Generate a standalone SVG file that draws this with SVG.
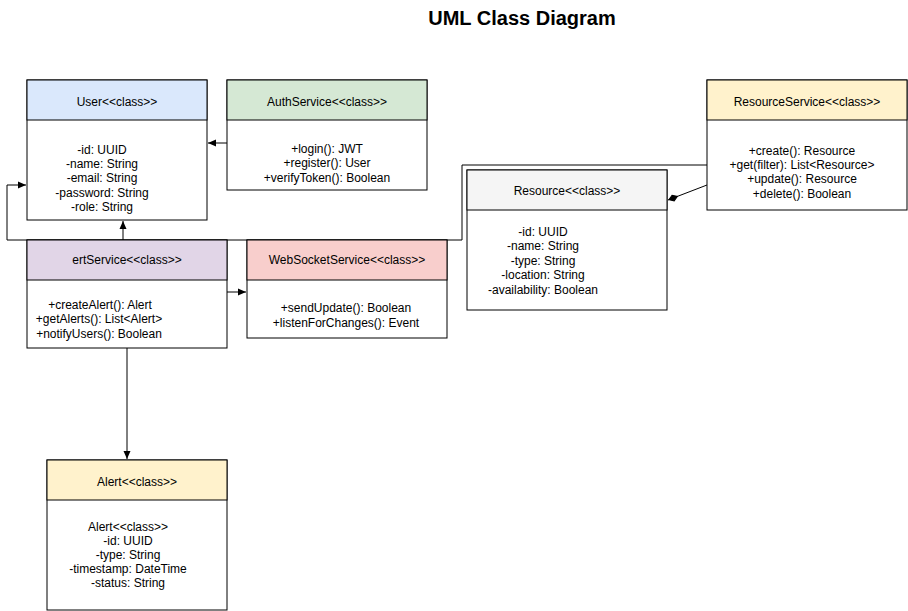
<svg xmlns="http://www.w3.org/2000/svg" width="908" height="611" viewBox="0 0 908 611">
<style>
  text { font-family: "Liberation Sans", Arial, Helvetica, sans-serif; font-size: 12px; fill: #000; text-anchor: middle; }
  .title { font-size: 20px; font-weight: bold; }
  .box { fill: #ffffff; stroke: #000; stroke-width: 1; }
  .hdr { stroke: #000; stroke-width: 1; }
  .edge { fill: none; stroke: #000; stroke-width: 1; }
</style>
<defs>
  <marker id="arrow" markerUnits="userSpaceOnUse" markerWidth="10" markerHeight="10" refX="8" refY="4" orient="auto">
    <path d="M0,0.5 L8,4 L0,7.5 Z" fill="#000"/>
  </marker>
  <marker id="diamond" markerUnits="userSpaceOnUse" markerWidth="12" markerHeight="10" refX="11" refY="4" orient="auto">
    <path d="M1,4 L5.5,1 L10,4 L5.5,7 Z" fill="#000" stroke="#000" stroke-width="1"/>
  </marker>
</defs>
<rect width="908" height="611" fill="#ffffff"/>
<text class="title" x="522" y="25">UML Class Diagram</text>

<g id="connectors">
  <path class="edge" d="M227,143 L208,143" marker-end="url(#arrow)"/>
  <path class="edge" d="M123,240 L123,221" marker-end="url(#arrow)"/>
  <path class="edge" d="M717,165 L462,165 L462,240 L7,240 L7,185 L26,185" marker-end="url(#arrow)"/>
  <path class="edge" d="M227,292 L246,292" marker-end="url(#arrow)"/>
  <path class="edge" d="M707,185 L668,200" marker-end="url(#diamond)"/>
  <path class="edge" d="M127,348 L127,459" marker-end="url(#arrow)"/>
</g>

<g id="user">
  <rect class="box" x="27" y="80" width="180" height="140"/>
  <rect class="hdr" x="27" y="80" width="180" height="40" fill="#dae8fc"/>
  <text x="117" y="106">User&lt;&lt;class&gt;&gt;</text>
  <text x="102" y="153.5">-id: UUID</text>
  <text x="102" y="167.9">-name: String</text>
  <text x="102" y="182.3">-email: String</text>
  <text x="102" y="196.7">-password: String</text>
  <text x="102" y="211.1">-role: String</text>
</g>

<g id="authservice">
  <rect class="box" x="227" y="80" width="200" height="110"/>
  <rect class="hdr" x="227" y="80" width="200" height="40" fill="#d5e8d4"/>
  <text x="327" y="106">AuthService&lt;&lt;class&gt;&gt;</text>
  <text x="327" y="153">+login(): JWT</text>
  <text x="327" y="167.4">+register(): User</text>
  <text x="327" y="181.8">+verifyToken(): Boolean</text>
</g>

<g id="resourceservice">
  <rect class="box" x="707" y="80" width="200" height="130"/>
  <rect class="hdr" x="707" y="80" width="200" height="40" fill="#fff2cc"/>
  <text x="807" y="106">ResourceService&lt;&lt;class&gt;&gt;</text>
  <text x="802" y="154.5">+create(): Resource</text>
  <text x="802" y="168.9">+get(filter): List&lt;Resource&gt;</text>
  <text x="802" y="183.3">+update(): Resource</text>
  <text x="802" y="197.7">+delete(): Boolean</text>
</g>

<g id="resource">
  <rect class="box" x="467" y="170" width="200" height="140"/>
  <rect class="hdr" x="467" y="170" width="200" height="40" fill="#f5f5f5"/>
  <text x="567" y="195">Resource&lt;&lt;class&gt;&gt;</text>
  <text x="543" y="236">-id: UUID</text>
  <text x="543" y="250.4">-name: String</text>
  <text x="543" y="264.8">-type: String</text>
  <text x="543" y="279.2">-location: String</text>
  <text x="543" y="293.6">-availability: Boolean</text>
</g>

<g id="alertservice">
  <rect class="box" x="27" y="240" width="200" height="108"/>
  <rect class="hdr" x="27" y="240" width="200" height="40" fill="#e1d5e7"/>
  <text x="127" y="264">ertService&lt;&lt;class&gt;&gt;</text>
  <text x="100" y="309">+createAlert(): Alert</text>
  <text x="99" y="323.4">+getAlerts(): List&lt;Alert&gt;</text>
  <text x="99" y="337.8">+notifyUsers(): Boolean</text>
</g>

<g id="websocketservice">
  <rect class="box" x="247" y="240" width="200" height="98"/>
  <rect class="hdr" x="247" y="240" width="200" height="40" fill="#f8cecc"/>
  <text x="347" y="264">WebSocketService&lt;&lt;class&gt;&gt;</text>
  <text x="346" y="311.5">+sendUpdate(): Boolean</text>
  <text x="346" y="327">+listenForChanges(): Event</text>
</g>

<g id="alert">
  <rect class="box" x="47" y="460" width="180" height="150"/>
  <rect class="hdr" x="47" y="460" width="180" height="40" fill="#fff2cc"/>
  <text x="137" y="485.7">Alert&lt;&lt;class&gt;&gt;</text>
  <text x="128" y="530.7">Alert&lt;&lt;class&gt;&gt;</text>
  <text x="128" y="544.7">-id: UUID</text>
  <text x="128" y="558.7">-type: String</text>
  <text x="128" y="573">-timestamp: DateTime</text>
  <text x="128" y="587.3">-status: String</text>
</g>
</svg>
